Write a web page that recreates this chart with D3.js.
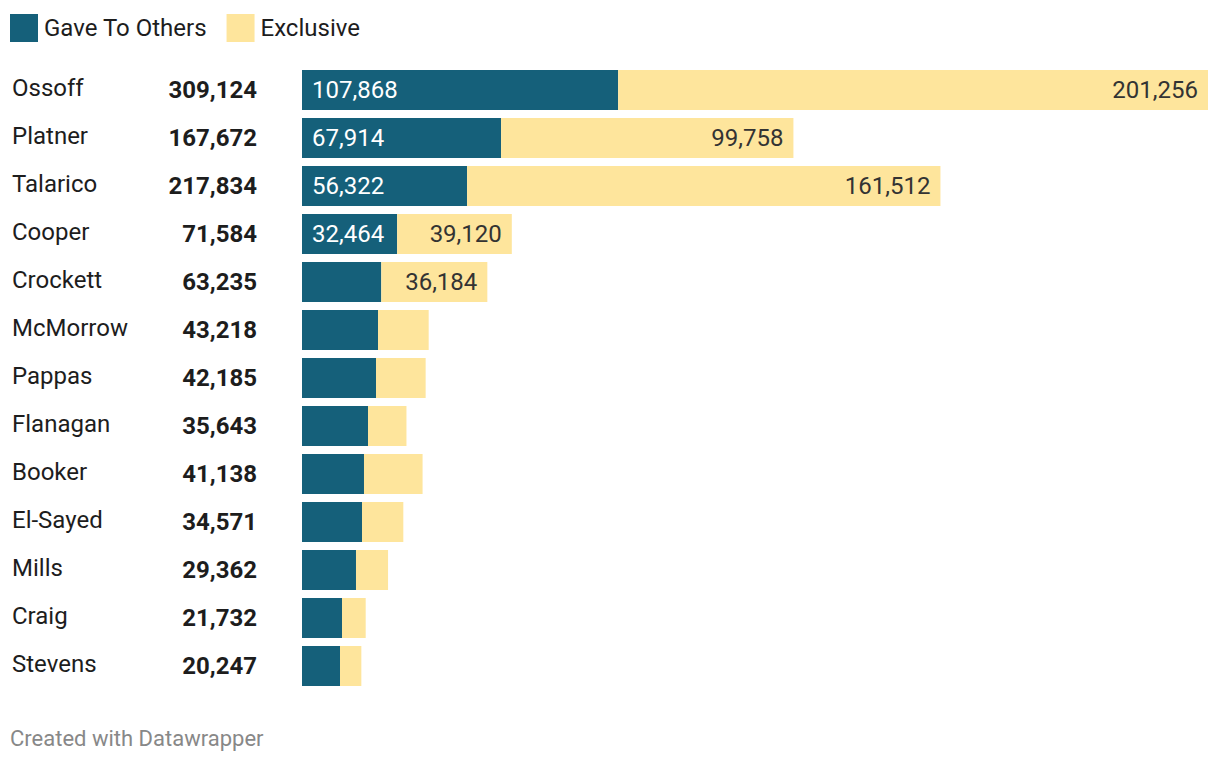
<!DOCTYPE html>
<html>
<head>
<meta charset="utf-8">
<script src="https://cdn.jsdelivr.net/npm/d3@7"></script>
<style>
  body { margin: 0; background: #fff; font-family: Roboto, "Noto Sans", sans-serif; }
</style>
</head>
<body>
<svg id="chart" width="1220" height="762"></svg>
<script>
// candidates, top to bottom
var names = ["Ossoff", "Platner", "Talarico", "Cooper", "Crockett", "McMorrow", "Pappas",
             "Flanagan", "Booker", "El-Sayed", "Mills", "Craig", "Stevens"];
// donors who also gave to other candidates
var gave = [107868, 67914, 56322, 32464, 27051, 25930, 25250, 22520, 21150, 20470, 18420, 13650, 12970];
// donors who gave only to this candidate
var exclusive = [201256, 99758, 161512, 39120, 36184, 17288, 16935, 13123, 19988, 14101, 10942, 8082, 7277];
// totals as printed in the table column
var totals = [309124, 167672, 217834, 71584, 63235, 43218, 42185, 35643, 41138, 34571, 29362, 21732, 20247];

var seriesNames = ["Gave To Others", "Exclusive"];
var colors = ["#15607a", "#fee59c"];

var fmt = d3.format(",");
var svg = d3.select("#chart");
var fs = "24px";

var rows = names.map(function(n, i) {
  return { name: n, gave: gave[i], exclusive: exclusive[i], total: totals[i] };
});

var x = d3.scaleLinear()
  .domain([0, d3.max(rows, function(d) { return d.gave + d.exclusive; })])
  .range([302, 1208]);

var y = d3.scaleBand()
  .domain(names)
  .range([66, 690])
  .paddingInner(1/6)
  .paddingOuter(1/12);

// legend
var legend = svg.append("g");
var lx = 10;
seriesNames.forEach(function(s, i) {
  legend.append("rect")
    .attr("x", lx).attr("y", 14)
    .attr("width", 28).attr("height", 28)
    .attr("fill", colors[i]);
  var t = legend.append("text")
    .attr("x", lx + 34).attr("y", 36)
    .attr("font-size", fs)
    .attr("fill", "#1d1d1d")
    .text(s);
  lx += 34 + t.node().getComputedTextLength() + 20;
});

// name + total columns
var row = svg.selectAll("g.row")
  .data(rows)
  .enter()
  .append("g")
  .attr("class", "row");

row.append("text")
  .attr("x", 12)
  .attr("y", function(d) { return y(d.name) + y.bandwidth() / 2 + 6; })
  .attr("font-size", fs)
  .attr("fill", "#1d1d1d")
  .text(function(d) { return d.name; });

row.append("text")
  .attr("x", 257)
  .attr("y", function(d) { return y(d.name) + y.bandwidth() / 2 + 8; })
  .attr("text-anchor", "end")
  .attr("font-size", fs)
  .attr("font-weight", "bold")
  .attr("fill", "#1d1d1d")
  .text(function(d) { return fmt(d.total); });

// stacked bars
row.append("rect")
  .attr("x", x(0))
  .attr("y", function(d) { return y(d.name); })
  .attr("width", function(d) { return x(d.gave) - x(0); })
  .attr("height", y.bandwidth())
  .attr("fill", colors[0]);

row.append("rect")
  .attr("x", function(d) { return x(d.gave); })
  .attr("y", function(d) { return y(d.name); })
  .attr("width", function(d) { return x(d.gave + d.exclusive) - x(d.gave); })
  .attr("height", y.bandwidth())
  .attr("fill", colors[1]);

// value labels, only where they fit
row.append("text")
  .attr("x", x(0) + 10)
  .attr("y", function(d) { return y(d.name) + y.bandwidth() / 2 + 8; })
  .attr("font-size", fs)
  .attr("fill", "#fff")
  .text(function(d) { return fmt(d.gave); })
  .each(function(d) {
    var w = x(d.gave) - x(0);
    if (this.getComputedTextLength() + 16 > w) d3.select(this).remove();
  });

row.append("text")
  .attr("x", function(d) { return x(d.gave + d.exclusive) - 10; })
  .attr("y", function(d) { return y(d.name) + y.bandwidth() / 2 + 8; })
  .attr("text-anchor", "end")
  .attr("font-size", fs)
  .attr("fill", "#333")
  .text(function(d) { return fmt(d.exclusive); })
  .each(function(d) {
    var w = x(d.gave + d.exclusive) - x(d.gave);
    if (this.getComputedTextLength() + 16 > w) d3.select(this).remove();
  });

// footer
svg.append("text")
  .attr("x", 10)
  .attr("y", 746)
  .attr("font-size", "22px")
  .attr("fill", "#888")
  .text("Created with Datawrapper");
</script>
</body>
</html>
